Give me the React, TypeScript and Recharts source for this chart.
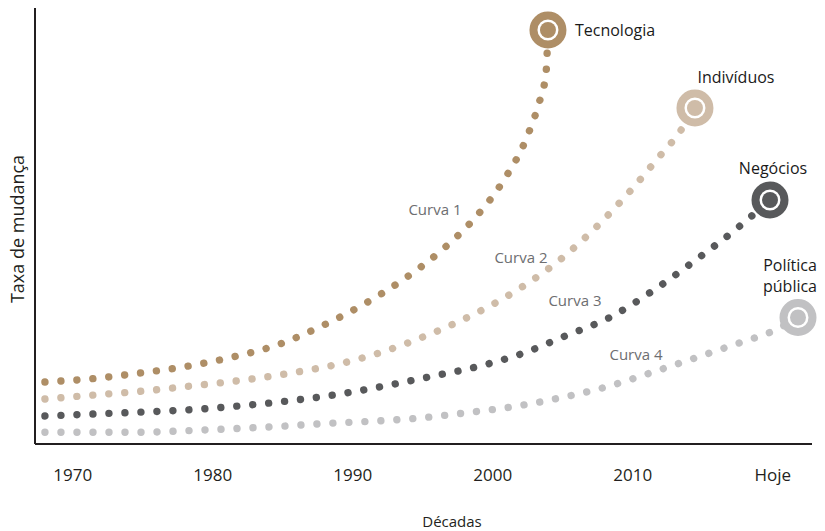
import { LineChart, Line, XAxis, YAxis, ReferenceDot } from 'recharts';

const FONT = '"Open Sans", "Noto Sans", sans-serif';

// eixo X: décadas (2020 = "Hoje")
const decadas = [1970, 1980, 1990, 2000, 2010, 2020];

// Curva 1 – Tecnologia
const tecnologiaAnos = [1968.01, 1971.37, 1974.8, 1978.16, 1981.51, 1984.66, 1987.73, 1990.73, 1993.66, 1996.37, 1998.8, 2000.73, 2002.44, 2003.23, 2003.8, 2003.94];
const tecnologiaTaxa = [62, 65.3, 71, 77.7, 87.3, 99.3, 117.7, 139.3, 165, 194, 227.3, 262.7, 307, 338, 371, 414];

// Curva 2 – Indivíduos
const individuosAnos = [1968.01, 1971.51, 1975.09, 1978.66, 1982.23, 1985.73, 1989.01, 1992.3, 1995.66, 1998.87, 2002.01, 2004.87, 2007.3, 2009.66, 2011.87, 2013.3, 2014.44];
const individuosTaxa = [45, 49, 53, 58.3, 64, 71.3, 80, 93, 110.7, 131.3, 156.3, 185, 215.7, 250.5, 287, 311, 336];

// Curva 3 – Negócios
const negociosAnos = [1968.01, 1971.51, 1975.09, 1978.66, 1982.23, 1985.8, 1989.09, 1992.37, 1995.66, 1998.94, 2002.01, 2005.23, 2008.37, 2011.44, 2014.37, 2017.3, 2019.8];
const negociosTaxa = [28, 30, 32, 34.5, 38.5, 43.7, 50, 58.3, 67.7, 77.5, 90, 108.3, 126.7, 153.3, 182.7, 214, 244];

// Curva 4 – Política pública
const politicaAnos = [1968.01, 1971.44, 1974.8, 1978.09, 1981.44, 1984.87, 1988.3, 1991.73, 1994.8, 1998.16, 2001.44, 2004.87, 2008.16, 2011.3, 2014.59, 2017.8, 2019.87, 2021.8];
const politicaTaxa = [11.7, 11.7, 11.7, 13.3, 15.3, 17.7, 20.7, 23, 26, 31.3, 37.3, 46.3, 57.3, 71.3, 86.7, 102, 112, 126.5];

const toRows = (anos: number[], taxa: number[]) => anos.map((ano, i) => ({ ano, taxa: taxa[i] }));

interface Serie {
  key: string;
  nome: string[];
  curva: string;
  color: string;
  data: { ano: number; taxa: number }[];
  labelDx: number;
  labelDy: number;
  anchor: 'start' | 'middle' | 'end';
  curvaAt: [number, number];
}

const series: Serie[] = [
  { key: 'tec', nome: ['Tecnologia'], curva: 'Curva 1', color: '#ae8e66', data: toRows(tecnologiaAnos, tecnologiaTaxa), labelDx: 27, labelDy: 0, anchor: 'start', curvaAt: [1995.87, 234] },
  { key: 'ind', nome: ['Indivíduos'], curva: 'Curva 2', color: '#cfbca8', data: toRows(individuosAnos, individuosTaxa), labelDx: 41, labelDy: -31, anchor: 'middle', curvaAt: [2002.01, 186] },
  { key: 'neg', nome: ['Negócios'], curva: 'Curva 3', color: '#58595b', data: toRows(negociosAnos, negociosTaxa), labelDx: 3, labelDy: -32, anchor: 'middle', curvaAt: [2005.87, 143] },
  { key: 'pol', nome: ['Política', 'pública'], curva: 'Curva 4', color: '#c1c1c3', data: toRows(politicaAnos, politicaTaxa), labelDx: -8, labelDy: -52.5, anchor: 'middle', curvaAt: [2010.23, 89] },
];

const endDot = (s: Serie) => (props: any) => {
  const { cx, cy, index } = props;
  if (index !== s.data.length - 1) return <g key={`${s.key}-${index}`} />;
  return (
    <g key={`${s.key}-end`}>
      <circle cx={cx} cy={cy} r={14.5} fill="#fff" stroke={s.color} strokeWidth={8} />
      <circle cx={cx} cy={cy} r={8} fill={s.color} />
      {s.nome.map((t, i) => (
        <text key={i} x={cx + s.labelDx} y={cy + s.labelDy + i * 21} textAnchor={s.anchor}
          dominantBaseline="central" fill="#1a1a1a" fontSize={16} fontFamily={FONT}>{t}</text>
      ))}
    </g>
  );
};

export default function App() {
  return (
    <div style={{ position: 'absolute', left: 0, top: 0, background: '#fff' }}>
      <LineChart width={825} height={531} margin={{ top: 8, right: 13, bottom: 7, left: 8 }} style={{ fontFamily: FONT }}>
        <XAxis type="number" dataKey="ano" domain={[1967.3, 2022.8]} ticks={decadas}
          height={80} tickLine={false} tickMargin={18.6}
          tickFormatter={(v: number) => (v === 2020 ? 'Hoje' : String(v))}
          tick={{ fill: '#231f20', fontSize: 17, fontFamily: FONT }}
          axisLine={{ stroke: '#231f20', strokeWidth: 2 }}
          label={() => (
            <text x={452} y={521} textAnchor="middle" dominantBaseline="central" fill="#231f20" fontSize={15} fontFamily={FONT}>Décadas</text>
          )}
        />
        <YAxis type="number" dataKey="taxa" domain={[0, 436]} width={27}
          tick={false} tickLine={false}
          axisLine={{ stroke: '#231f20', strokeWidth: 2 }}
          label={() => (
            <text x={17} y={229} transform="rotate(-90 17 229)" textAnchor="middle" dominantBaseline="central"
              fill="#231f20" fontSize={18} fontFamily={FONT}>Taxa de mudança</text>
          )}
        />
        {series.map(s => (
          <Line key={s.key} data={s.data} dataKey="taxa" type="monotone" stroke={s.color} strokeWidth={7.4}
            strokeLinecap="round" strokeDasharray="0.01 16" dot={endDot(s)} activeDot={false}
            isAnimationActive={false} />
        ))}
        {series.map(s => (
          <ReferenceDot key={`c-${s.key}`} x={s.curvaAt[0]} y={s.curvaAt[1]} r={0} fill="none" stroke="none"
            label={{ value: s.curva, position: 'center', fill: '#6d6e71', fontSize: 15, fontFamily: FONT }} />
        ))}
      </LineChart>
    </div>
  );
}
